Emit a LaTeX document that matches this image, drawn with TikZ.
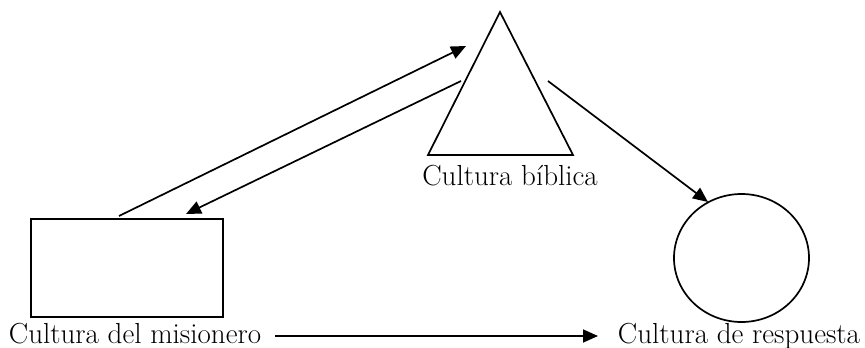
\documentclass[tikz,border=0pt]{standalone}
\usetikzlibrary{arrows.meta,shapes.geometric}
\begin{document}
\begin{tikzpicture}[x=1pt,y=-1pt,
  shapeline/.style={line width=1.7pt, line join=miter},
  conn/.style={line width=1.7pt, -{Triangle[length=15pt,width=13pt]}},
  lbl/.style={anchor=base, inner sep=0pt, font=\fontsize{29}{34}\selectfont}]
\useasboundingbox (0,0) rectangle (865,348);
% shapes
\coordinate (tA) at (500,12);
\coordinate (tL) at (428,155);
\coordinate (tR) at (573,155);
\draw[shapeline] (tA) -- (tL) -- (tR) -- cycle;
\node[shapeline, draw, rectangle, minimum width=192pt, minimum height=98pt, inner sep=0pt] (rect) at (127,268) {};
\node[shapeline, draw, ellipse, minimum width=135pt, minimum height=128pt, inner sep=0pt] (circ) at (741.5,258) {};
% labels
\node[lbl] (lbib) at (510,185) {Cultura bíblica};
\node[lbl] (lmis) at (135,343) {Cultura del misionero};
\node[lbl] (lres) at (739,343) {Cultura de respuesta};
% connector endpoints
\coordinate (a1s) at (119,216);
\coordinate (a1e) at (466,46);
\coordinate (a2s) at (461,81);
\coordinate (a2e) at (186,214);
\coordinate (a3s) at (548,81);
\coordinate (a3e) at (708,202);
\coordinate (a4s) at (275,336);
\coordinate (a4e) at (598,336);
\draw[conn] (a1s) -- (a1e);
\draw[conn] (a2s) -- (a2e);
\draw[conn] (a3s) -- (a3e);
\draw[conn] (a4s) -- (a4e);
\end{tikzpicture}
\end{document}
